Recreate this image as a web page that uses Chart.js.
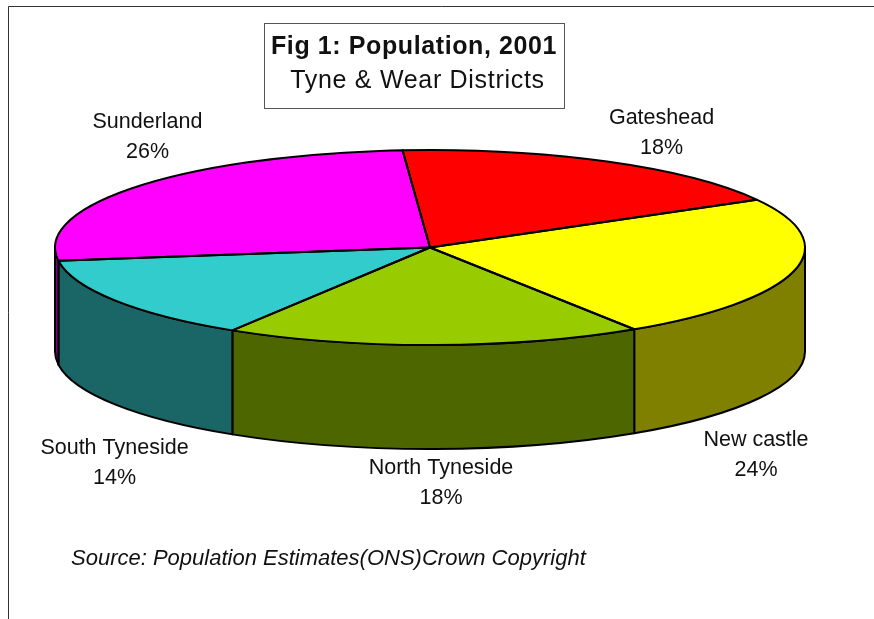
<!DOCTYPE html>
<html>
<head>
<meta charset="utf-8">
<style>
  html, body { margin: 0; padding: 0; background: #fff; }
  canvas { display: block; }
</style>
<script src="https://cdn.jsdelivr.net/npm/chart.js@4/dist/chart.umd.min.js"></script>
</head>
<body>
<canvas id="pie" width="874" height="619"></canvas>
<script>
const districts = ['Gateshead', 'New castle', 'North Tyneside', 'South Tyneside', 'Sunderland'];
const population = [18, 24, 18, 14, 26];
const topColours = ['#FF0000', '#FFFF00', '#99CC00', '#33CCCC', '#FF00FF'];
const wallColours = ['#800000', '#808000', '#4D6600', '#1A6666', '#800080'];
const labelAnchors = [[661.5, 118], [756, 440.5], [441, 468.5], [114.5, 448.5], [147.5, 122]];

const CENTRE_X = 430, CENTRE_Y = 247.5, RADIUS = 375, SQUASH = 97.5 / 375, DEPTH = 104;
const FONT = '"Liberation Sans", Arial, sans-serif';

// Draws one line of text with an optional letter spacing.
function text(ctx, str, x, y, font, align, spacing) {
  ctx.font = font;
  ctx.textAlign = align;
  ctx.textBaseline = 'middle';
  ctx.fillStyle = '#111';
  ctx.letterSpacing = spacing || '0px';
  ctx.fillText(str, x, y);
  ctx.letterSpacing = '0px';
}

const tiltedPie = {
  id: 'tiltedPie',
  // Side walls go underneath the flattened top face.
  beforeDatasetsDraw(chart) {
    const ctx = chart.ctx;
    const arcs = chart.getDatasetMeta(0).data;
    ctx.save();
    ctx.lineWidth = 2;
    ctx.strokeStyle = '#000';
    ctx.lineJoin = 'round';
    arcs.forEach((arc, i) => {
      const span = visibleFront(arc.startAngle, arc.endAngle);
      if (!span) return;
      const ry = arc.outerRadius * SQUASH;
      ctx.beginPath();
      ctx.ellipse(arc.x, arc.y, arc.outerRadius, ry, 0, span[0], span[1]);
      ctx.ellipse(arc.x, arc.y + DEPTH, arc.outerRadius, ry, 0, span[1], span[0], true);
      ctx.closePath();
      ctx.fillStyle = wallColours[i];
      ctx.fill();
      ctx.stroke();
    });
    ctx.restore();
    // Flatten the circle the library is about to paint.
    ctx.save();
    ctx.translate(CENTRE_X, CENTRE_Y);
    ctx.scale(1, SQUASH);
    ctx.translate(-CENTRE_X, -CENTRE_Y);
  },
  afterDatasetsDraw(chart) {
    const ctx = chart.ctx;
    ctx.restore();
    const arcs = chart.getDatasetMeta(0).data;
    ctx.save();
    ctx.lineWidth = 2;
    ctx.strokeStyle = '#000';
    ctx.lineJoin = 'round';
    arcs.forEach(arc => {
      ctx.beginPath();
      ctx.moveTo(arc.x, arc.y);
      ctx.ellipse(arc.x, arc.y, arc.outerRadius, arc.outerRadius * SQUASH, 0, arc.startAngle, arc.endAngle);
      ctx.closePath();
      ctx.stroke();
    });
    ctx.restore();
  },
  afterDraw(chart) {
    const ctx = chart.ctx;
    ctx.save();
    // Outer frame: only the top and left edges fall inside the page.
    ctx.strokeStyle = '#333';
    ctx.lineWidth = 1;
    ctx.beginPath();
    ctx.moveTo(8.5, 619);
    ctx.lineTo(8.5, 6.5);
    ctx.lineTo(874, 6.5);
    ctx.stroke();
    // Title box.
    ctx.strokeStyle = '#555';
    ctx.strokeRect(264.5, 23.5, 300, 85);
    text(ctx, 'Fig 1: Population, 2001', 414, 47, 'bold 25px ' + FONT, 'center', '0.6px');
    text(ctx, 'Tyne & Wear Districts', 417.5, 81, '25px ' + FONT, 'center', '0.7px');
    // Slice labels.
    const total = population.reduce((a, b) => a + b, 0);
    districts.forEach((name, i) => {
      const [x, y] = labelAnchors[i];
      text(ctx, name, x, y, '21.5px ' + FONT, 'center');
      text(ctx, Math.round(population[i] / total * 100) + '%', x, y + 30, '21.5px ' + FONT, 'center');
    });
    text(ctx, 'Source: Population Estimates(ONS)Crown Copyright', 71, 558.5, 'italic 22px ' + FONT, 'left');
    ctx.restore();
  }
};

// Part of an arc lying on the near side of the pie (canvas angles 0..PI).
function visibleFront(start, end) {
  const full = Math.PI * 2;
  let s = start, e = end;
  while (s < 0) { s += full; e += full; }
  while (s >= full) { s -= full; e -= full; }
  const parts = [[Math.max(s, 0), Math.min(e, Math.PI)], [Math.max(s, full), Math.min(e, full + Math.PI)]];
  const hit = parts.find(p => p[1] > p[0]);
  return hit || null;
}

new Chart(document.getElementById('pie'), {
  type: 'pie',
  data: {
    labels: districts,
    datasets: [{
      data: population,
      backgroundColor: topColours,
      borderWidth: 0,
      radius: RADIUS,
      clip: false
    }]
  },
  options: {
    responsive: false,
    animation: false,
    rotation: -4.2,
    layout: { padding: { left: 0, top: 0, right: 14, bottom: 124 } },
    plugins: { legend: { display: false }, tooltip: { enabled: false }, title: { display: false } }
  },
  plugins: [tiltedPie]
});
</script>
</body>
</html>
